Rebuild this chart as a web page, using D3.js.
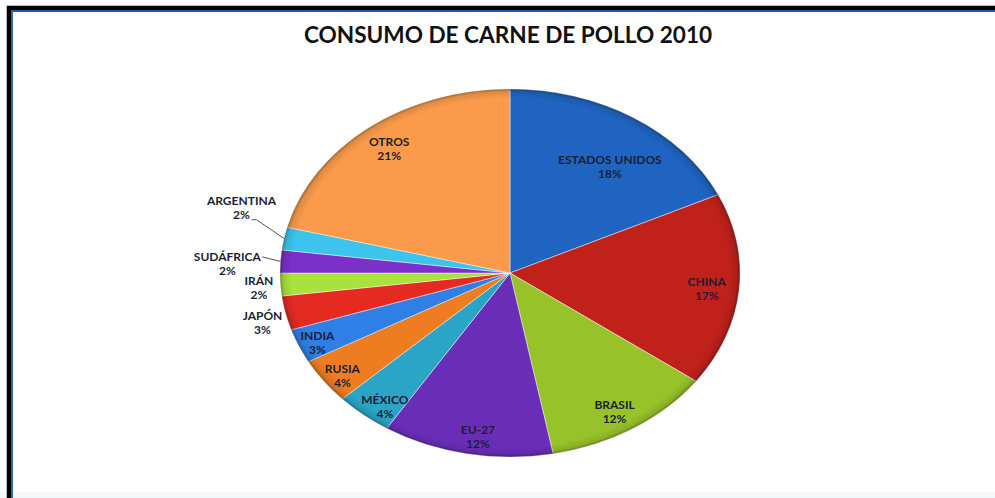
<!DOCTYPE html>
<html>
<head>
<meta charset="utf-8">
<script src="https://cdn.jsdelivr.net/npm/d3@7"></script>
<style>
  html, body { margin: 0; padding: 0; background: #fff; }
  svg { display: block; }
</style>
</head>
<body>
<svg id="chart" width="995" height="498"></svg>
<script>
// Consumo de carne de pollo 2010, participación por país (%)
const countries = ["ESTADOS UNIDOS", "CHINA", "BRASIL", "EU-27", "MÉXICO", "RUSIA",
                   "INDIA", "JAPÓN", "IRÁN", "SUDÁFRICA", "ARGENTINA", "OTROS"];
const shares = [18, 17, 12, 12, 4, 4, 3, 3, 2, 2, 2, 21];
const sliceColors = ["#1f64c1", "#c0211b", "#97c22a", "#6a2db8", "#2aa5c6", "#ee7d22",
                     "#2f7fe6", "#e52a22", "#a8e23d", "#7b30c9", "#3cc4ec", "#fa9a4a"];
const title = "CONSUMO DE CARNE DE POLLO 2010";

// Label placement: radial factor (relative to the ellipse) and angular nudge in degrees
const labelRadius = [0.72, 0.86, 0.88, 0.90, 0.91, 0.92, 0.92, 1.11, 1.095, 1.23, 1.22, 0.855];
const labelNudge  = [4.7, 0.4, 1.3, -1.9, -2.9, -1.6, -1.1, -1.6, -0.6, -1.3, 6.1, -0.1];
const leaderLines = [false, false, false, false, false, false, false, false, false, true, true, false];

const W = 995, H = 498;
const cx = 510, cy = 273, rx = 230, ry = 184, R = 100;

const svg = d3.select("#chart");

// Frame
svg.append("rect").attr("x", 0).attr("y", 0).attr("width", W).attr("height", H).attr("fill", "#ffffff");
svg.append("rect").attr("x", 0).attr("y", 492).attr("width", W).attr("height", 6).attr("fill", "#f2f9fb");
svg.append("path")
  .attr("d", `M9,${H + 5} V8 H${W + 5}`)
  .attr("fill", "none").attr("stroke", "#000").attr("stroke-width", 4.5);
svg.append("path")
  .attr("d", `M12,${H + 5} V11 H${W + 5}`)
  .attr("fill", "none").attr("stroke", "#1f5fa8").attr("stroke-width", 1.8);

// Title
svg.append("text")
  .attr("x", 508).attr("y", 43)
  .attr("text-anchor", "middle")
  .attr("font-family", "Lato, 'Open Sans', sans-serif")
  .attr("font-weight", "bold")
  .attr("font-size", 22.6)
  .attr("fill", "#111")
  .text(title);

// Pie drawn on a circle, then stretched into the ellipse
const data = countries.map((c, i) => ({ name: c, value: shares[i], color: sliceColors[i], i }));
const pie = d3.pie().value(d => d.value).sort(null);
const arcs = pie(data);
const arc = d3.arc().innerRadius(0).outerRadius(R);

const defs = svg.append("defs");
const rim = defs.append("radialGradient").attr("id", "rim")
  .attr("gradientUnits", "userSpaceOnUse").attr("cx", 0).attr("cy", 0).attr("r", R);
rim.append("stop").attr("offset", "0.95").attr("stop-color", "#000").attr("stop-opacity", 0);
rim.append("stop").attr("offset", "0.985").attr("stop-color", "#000").attr("stop-opacity", 0.1);
rim.append("stop").attr("offset", "1").attr("stop-color", "#000").attr("stop-opacity", 0.35);

const pieG = svg.append("g")
  .attr("transform", `translate(${cx},${cy}) scale(${rx / R},${ry / R})`);

pieG.selectAll("path.slice")
  .data(arcs)
  .join("path")
  .attr("class", "slice")
  .attr("d", arc)
  .attr("fill", d => d.data.color)
  .attr("stroke", "rgba(255,255,255,0.55)")
  .attr("stroke-width", 0.8)
  .attr("vector-effect", "non-scaling-stroke");

pieG.append("circle")
  .attr("r", R)
  .attr("fill", "url(#rim)")
  .attr("pointer-events", "none");

// Labels
function ellipsePoint(angleRad, k) {
  return [cx + Math.sin(angleRad) * rx * k, cy - Math.cos(angleRad) * ry * k];
}

const labelG = svg.append("g")
  .attr("font-family", "Lato, 'Open Sans', sans-serif")
  .attr("font-weight", "bold")
  .attr("font-size", 12)
  .attr("fill", "#1a1f33");

arcs.forEach((a, i) => {
  const mid = (a.startAngle + a.endAngle) / 2;
  const ang = mid + labelNudge[i] * Math.PI / 180;
  const [lx, ly] = ellipsePoint(ang, labelRadius[i]);
  const t = labelG.append("text").attr("text-anchor", "middle");
  t.append("tspan").attr("x", lx).attr("y", ly - 3).text(a.data.name);
  t.append("tspan").attr("x", lx).attr("y", ly + 11).text(a.data.value + "%");

  if (leaderLines[i]) {
    const [ex, ey] = ellipsePoint(mid, 1);
    let pts;
    if (a.data.name === "ARGENTINA") {
      pts = [[ex, ey], [lx + 15, ly + 12], [lx + 10, ly + 12]];
    } else {
      pts = [[ex, ey], [lx + 35, ly - 7]];
    }
    svg.append("path")
      .attr("d", d3.line()(pts))
      .attr("fill", "none")
      .attr("stroke", "#555")
      .attr("stroke-width", 1);
  }
});
</script>
</body>
</html>
